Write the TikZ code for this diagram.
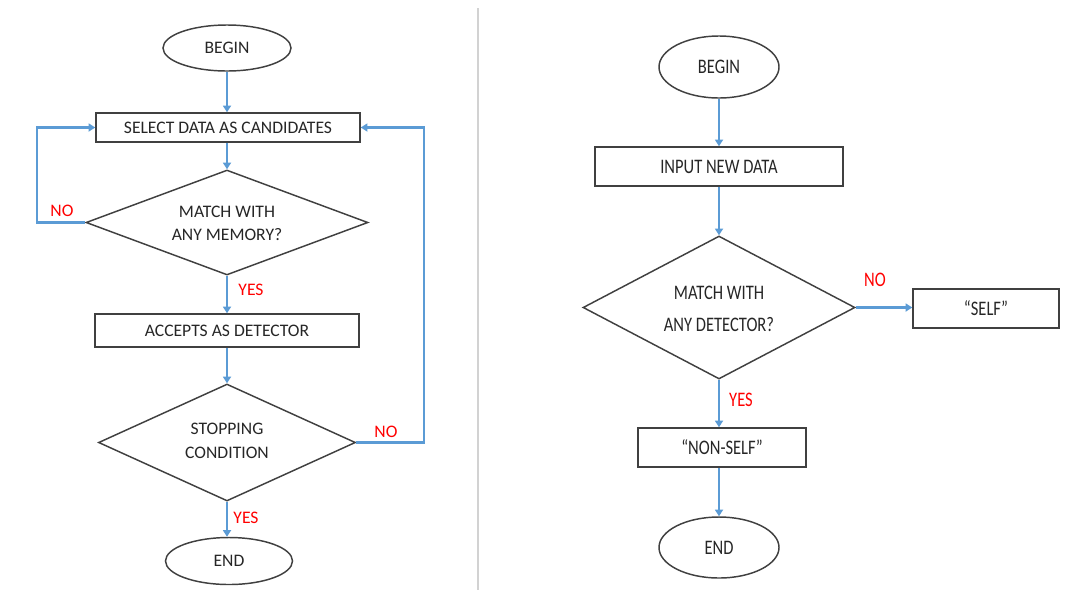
\documentclass[tikz,border=0pt]{standalone}
\usepackage{fontspec}
\setmainfont{Carlito}
\newfontfamily\condfont[FakeStretch=0.8]{Carlito}
\usetikzlibrary{shapes.geometric,arrows.meta}
\definecolor{flowblue}{HTML}{5B9BD5}
\definecolor{edge}{HTML}{404040}
\definecolor{txt}{HTML}{262626}
\begin{document}
\begin{tikzpicture}[x=0.75pt,y=-0.75pt,
  shp/.style={draw=edge,line width=1.1pt,inner sep=0pt,text=txt},
  lft/.style={font=\fontsize{13.2}{17}\selectfont},
  rgt/.style={font=\condfont\fontsize{15.5}{23}\selectfont},
  term/.style={shp,ellipse},
  boxx/.style={shp,rectangle},
  dec/.style={shp,diamond},
  dtxt/.style={align=center,text=txt,inner sep=0pt},
  flow/.style={draw=flowblue,line width=2.1pt,-{Triangle[length=5pt,width=6pt]}},
  lab/.style={text=red}]
\useasboundingbox (0,0) rectangle (1066,593);
\draw[gray!35,line width=0.8pt] (478,8) -- (478,590);
% left chart
\node[term,lft,minimum width={128*0.75pt},minimum height={46*0.75pt}] (lb) at (227,48) {BEGIN};
\node[boxx,lft,minimum width={264*0.75pt},minimum height={29*0.75pt}] (ls) at (228,127.5) {SELECT DATA AS CANDIDATES};
\node[dec,minimum width={282*0.75pt},minimum height={105*0.75pt}] (ld1) at (227,222.5) {};
\node[dtxt,font=\fontsize{13.2}{17.3}\selectfont] (ld1t) at (227,223.5) {MATCH WITH\\ANY MEMORY?};
\node[boxx,lft,minimum width={264*0.75pt},minimum height={33*0.75pt}] (la) at (227,330.5) {ACCEPTS AS DETECTOR};
\node[dec,minimum width={257*0.75pt},minimum height={117*0.75pt}] (ld2) at (227,442.5) {};
\node[dtxt,font=\fontsize{13.2}{18}\selectfont] (ld2t) at (227,440.5) {STOPPING\\CONDITION};
\node[term,lft,minimum width={127*0.75pt},minimum height={47*0.75pt}] (le) at (229,561) {END};
\coordinate (lnl) at (37,222.5);
\coordinate (lnr) at (424,442.5);
\draw[flow] (lb.south) -- (lb.south |- ls.north);
\draw[flow] (ld1.north |- ls.south) -- (ld1.north);
\draw[flow] (ld1.south) -- (la.north -| ld1.south);
\draw[flow] (ld2.north |- la.south) -- (ld2.north);
\draw[flow] (ld2.south) -- (ld2.south |- le.north);
\draw[flow] (ld1.west) -- (lnl) |- (ls.west);
\draw[flow] (ld2.east) -- (lnr) |- (ls.east);
\node[lab,lft] (lno1) at (62,211) {NO};
\node[lab,lft] (lyes1) at (251,290) {YES};
\node[lab,lft] (lno2) at (386,432) {NO};
\node[lab,lft] (lyes2) at (246,518) {YES};
% right chart
\node[term,rgt,minimum width={120*0.75pt},minimum height={62*0.75pt}] (rb) at (719,67) {BEGIN};
\node[boxx,rgt,minimum width={248*0.75pt},minimum height={39*0.75pt}] (ri) at (719,166.5) {INPUT NEW DATA};
\node[dec,minimum width={272*0.75pt},minimum height={143*0.75pt}] (rd) at (719,307.5) {};
\node[dtxt,font=\condfont\fontsize{15.5}{23.5}\selectfont] (rdt) at (719,309) {MATCH WITH\\ANY DETECTOR?};
\node[boxx,rgt,minimum width={146*0.75pt},minimum height={39*0.75pt}] (rs) at (986,308.5) {“SELF”};
\node[boxx,rgt,minimum width={168*0.75pt},minimum height={39*0.75pt}] (rn) at (722,447.5) {“NON-SELF”};
\node[term,rgt,minimum width={120*0.75pt},minimum height={61*0.75pt}] (re) at (719,547.5) {END};
\draw[flow] (rb.south) -- (ri.north -| rb.south);
\draw[flow] (rd.north |- ri.south) -- (rd.north);
\draw[flow] (rd.east) -- (rs.west |- rd.east);
\draw[flow] (rd.south) -- (rn.north -| rd.south);
\draw[flow] (re.north |- rn.south) -- (re.north);
\node[lab,rgt] (rno) at (875,280) {NO};
\node[lab,rgt] (ryes) at (741,400) {YES};
\end{tikzpicture}
\end{document}
